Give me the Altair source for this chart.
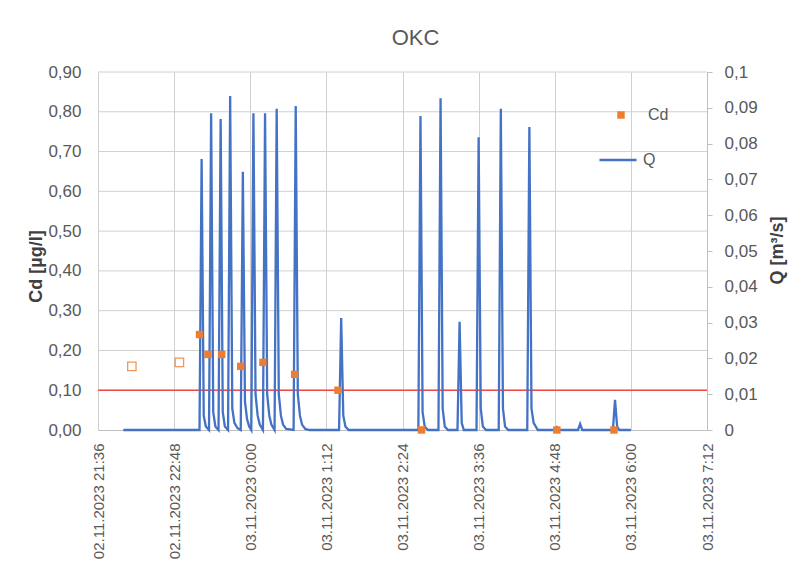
import altair as alt
import pandas as pd

# ---- data ----
q_time = [
    "2023-11-02T22:00", "2023-11-02T23:12", "2023-11-02T23:14", "2023-11-02T23:16", "2023-11-02T23:18",
    "2023-11-02T23:21", "2023-11-02T23:23", "2023-11-02T23:25", "2023-11-02T23:27",
    "2023-11-02T23:30", "2023-11-02T23:32", "2023-11-02T23:34", "2023-11-02T23:36",
    "2023-11-02T23:39", "2023-11-02T23:41", "2023-11-02T23:43", "2023-11-02T23:45", "2023-11-02T23:48",
    "2023-11-02T23:51", "2023-11-02T23:53", "2023-11-02T23:55", "2023-11-02T23:57", "2023-11-02T23:59",
    "2023-11-03T00:01", "2023-11-03T00:03", "2023-11-03T00:05", "2023-11-03T00:07", "2023-11-03T00:09",
    "2023-11-03T00:12", "2023-11-03T00:14", "2023-11-03T00:16", "2023-11-03T00:18", "2023-11-03T00:20",
    "2023-11-03T00:23", "2023-11-03T00:25", "2023-11-03T00:27", "2023-11-03T00:29", "2023-11-03T00:31",
    "2023-11-03T00:34", "2023-11-03T00:41", "2023-11-03T00:43", "2023-11-03T00:45", "2023-11-03T00:47",
    "2023-11-03T00:49", "2023-11-03T00:52", "2023-11-03T00:56",
    "2023-11-03T01:24", "2023-11-03T01:26", "2023-11-03T01:28", "2023-11-03T01:30", "2023-11-03T01:33",
    "2023-11-03T02:39", "2023-11-03T02:41", "2023-11-03T02:43", "2023-11-03T02:45", "2023-11-03T02:48",
    "2023-11-03T02:58", "2023-11-03T03:00", "2023-11-03T03:02", "2023-11-03T03:04", "2023-11-03T03:07",
    "2023-11-03T03:16", "2023-11-03T03:18", "2023-11-03T03:20", "2023-11-03T03:22",
    "2023-11-03T03:34", "2023-11-03T03:36", "2023-11-03T03:38", "2023-11-03T03:40", "2023-11-03T03:43",
    "2023-11-03T03:55", "2023-11-03T03:57", "2023-11-03T03:59", "2023-11-03T04:01", "2023-11-03T04:04",
    "2023-11-03T04:22", "2023-11-03T04:24", "2023-11-03T04:26", "2023-11-03T04:28", "2023-11-03T04:32",
    "2023-11-03T04:48", "2023-11-03T04:50", "2023-11-03T04:52",
    "2023-11-03T05:10", "2023-11-03T05:12", "2023-11-03T05:14",
    "2023-11-03T05:43", "2023-11-03T05:45", "2023-11-03T05:47", "2023-11-03T05:49",
    "2023-11-03T06:00",
]
q_value = [
    0.0, 0.0, 0.0757, 0.004, 0.001,
    0.0, 0.0885, 0.005, 0.001,
    0.0, 0.0869, 0.005, 0.001,
    0.0, 0.0933, 0.006, 0.002, 0.0005,
    0.0, 0.0721, 0.008, 0.003, 0.001,
    0.0, 0.0885, 0.010, 0.004, 0.0015,
    0.0, 0.0885, 0.010, 0.004, 0.0015,
    0.0, 0.0897, 0.010, 0.004, 0.0015,
    0.0003, 0.0, 0.0905, 0.010, 0.004,
    0.0015, 0.0003, 0.0,
    0.0, 0.0313, 0.004, 0.001, 0.0,
    0.0, 0.0877, 0.005, 0.001, 0.0,
    0.0, 0.0927, 0.006, 0.001, 0.0,
    0.0, 0.0302, 0.002, 0.0,
    0.0, 0.0818, 0.006, 0.001, 0.0,
    0.0, 0.0897, 0.006, 0.001, 0.0,
    0.0, 0.0846, 0.006, 0.002, 0.0,
    0.0, 0.0008, 0.0,
    0.0, 0.0017, 0.0,
    0.0, 0.0084, 0.001, 0.0,
    0.0,
]

cd_time = [
    "2023-11-02T23:12", "2023-11-02T23:20", "2023-11-02T23:33", "2023-11-02T23:51",
    "2023-11-03T00:12", "2023-11-03T00:42", "2023-11-03T01:23", "2023-11-03T02:42",
    "2023-11-03T04:50", "2023-11-03T05:44",
]
cd_value = [0.24, 0.19, 0.19, 0.16, 0.17, 0.14, 0.10, 0.0, 0.0, 0.0]

cd_open_time = ["2023-11-02T22:08", "2023-11-02T22:53"]
cd_open_value = [0.16, 0.17]

threshold = [0.10]

cd_ticks = [0, 0.1, 0.2, 0.3, 0.4, 0.5, 0.6, 0.7, 0.8, 0.9]
q_ticks = [0, 0.01, 0.02, 0.03, 0.04, 0.05, 0.06, 0.07, 0.08, 0.09, 0.1]

tick_values = [
    alt.DateTime(year=2023, month=11, date=2, hours=21, minutes=36),
    alt.DateTime(year=2023, month=11, date=2, hours=22, minutes=48),
    alt.DateTime(year=2023, month=11, date=3, hours=0, minutes=0),
    alt.DateTime(year=2023, month=11, date=3, hours=1, minutes=12),
    alt.DateTime(year=2023, month=11, date=3, hours=2, minutes=24),
    alt.DateTime(year=2023, month=11, date=3, hours=3, minutes=36),
    alt.DateTime(year=2023, month=11, date=3, hours=4, minutes=48),
    alt.DateTime(year=2023, month=11, date=3, hours=6, minutes=0),
    alt.DateTime(year=2023, month=11, date=3, hours=7, minutes=12),
]

# ---- tables ----
q_df = pd.DataFrame({"time": q_time, "Q": q_value, "series": "Q"})
cd_df = pd.DataFrame({"time": cd_time, "Cd": cd_value, "series": "Cd"})
cd_open_df = pd.DataFrame({"time": cd_open_time, "Cd": cd_open_value})
thr_df = pd.DataFrame({"thr": threshold})
grid_df = pd.DataFrame({"g": cd_ticks[1:]})

FONT = "Liberation Sans"
GREY = "#595959"
GRID = "#D0D0D0"

x_scale = alt.Scale(domain=[tick_values[0], tick_values[-1]])
x_axis = alt.Axis(
    values=tick_values,
    format="%d.%m.%Y %-H:%M",
    labelAngle=270,
    labelFontSize=15,
    labelColor=GREY,
    labelFont=FONT,
    ticks=False,
    labelPadding=13,
    grid=True,
    gridColor=GRID,
    gridWidth=1,
    domainColor="#BFBFBF",
    labelOverlap=False,
)
x_enc = alt.X("time:T", scale=x_scale, title=None, axis=x_axis)

cd_scale = alt.Scale(domain=[0, 0.9], nice=False)
q_scale = alt.Scale(domain=[0, 0.1], nice=False)

cd_axis = alt.Axis(
    orient="left",
    values=cd_ticks,
    labelExpr="replace(format(datum.value, '.2f'), '.', ',')",
    title="Cd [µg/l]",
    titleFontSize=18,
    titleFont=FONT,
    titleFontWeight="bold",
    titleColor="#404040",
    titleAngle=270,
    titleX=-62,
    titleY=194,
    titleAlign="center",
    titleBaseline="middle",
    labelFontSize=17,
    labelFont=FONT,
    labelColor=GREY,
    labelOverlap=False,
    ticks=False,
    domain=False,
    labelPadding=17,
    grid=False,
)

# horizontal gridlines at the Cd tick values
grid_rules = alt.Chart(grid_df).mark_rule(color=GRID, strokeWidth=1).encode(
    y=alt.Y("g:Q", scale=cd_scale, axis=None)
)
thr_rule = alt.Chart(thr_df).mark_rule(color="#F04848", strokeWidth=1.6).encode(
    y=alt.Y("thr:Q", scale=cd_scale, axis=None)
)
back_layer = alt.layer(grid_rules, thr_rule)

q_line = alt.Chart(q_df).mark_line(strokeWidth=2.3, interpolate="linear").encode(
    x=x_enc,
    y=alt.Y(
        "Q:Q",
        scale=q_scale,
        axis=alt.Axis(
            orient="right",
            values=q_ticks,
            labelExpr="replace(format(datum.value, '.2~f'), '.', ',')",
            title="Q [m³/s]",
            titleFontSize=18,
            titleFont=FONT,
            titleFontWeight="bold",
            titleColor="#404040",
            titleAngle=270,
            titleX=70,
            titleY=178,
            titleAlign="center",
            titleBaseline="middle",
            labelFontSize=17,
            labelFont=FONT,
            labelColor=GREY,
            labelOverlap=False,
            tickSize=5,
            tickColor="#BFBFBF",
            domainColor="#BFBFBF",
            labelPadding=12,
            grid=False,
        ),
    ),
    color=alt.Color(
        "series:N",
        scale=alt.Scale(domain=["Q"], range=["#4472C4"]),
        legend=alt.Legend(
            title=None,
            orient="none",
            legendX=500,
            legendY=68,
            symbolType="stroke",
            symbolSize=1369,
            symbolStrokeWidth=2.5,
            labelFontSize=16,
            labelFont=FONT,
            labelColor=GREY,
            labelOffset=5,
            padding=0,
        ),
    ),
)

cd_open = alt.Chart(cd_open_df).mark_point(
    shape="square", filled=False, size=70, strokeWidth=1.3, color="#ED7D31", opacity=0.8
).encode(
    x=alt.X("time:T", scale=x_scale, axis=x_axis, title=None),
    y=alt.Y("Cd:Q", scale=cd_scale, axis=cd_axis),
)

cd_pts = alt.Chart(cd_df).mark_point(shape="square", filled=True, size=55, opacity=1).encode(
    x=alt.X("time:T", scale=x_scale, axis=x_axis, title=None),
    y=alt.Y("Cd:Q", scale=cd_scale, axis=cd_axis),
    color=alt.Color(
        "series:N",
        scale=alt.Scale(domain=["Cd"], range=["#ED7D31"]),
        legend=alt.Legend(
            title=None,
            orient="none",
            legendX=515,
            legendY=35,
            symbolType="square",
            symbolSize=55,
            labelFontSize=16,
            labelFont=FONT,
            labelColor=GREY,
            labelOffset=19,
            padding=0,
        ),
    ),
)

cd_layer = alt.layer(cd_open, cd_pts)

chart = (
    alt.layer(back_layer, q_line, cd_layer)
    .resolve_scale(y="independent", color="independent")
    .properties(
        width=609,
        height=358,
        title=alt.TitleParams(
            "OKC", fontSize=22, font=FONT, fontWeight="normal", color=GREY,
            anchor="middle", offset=13, dx=13,
        ),
        autosize=alt.AutoSizeParams(type="none"),
        padding={"left": 98, "top": 72, "right": 97, "bottom": 146},
        background="white",
    )
    .configure_view(stroke=None)
    .configure_axis(gridColor=GRID, gridOpacity=1)
)

chart.save("out.html", embed_options={"renderer": "svg", "actions": False})
